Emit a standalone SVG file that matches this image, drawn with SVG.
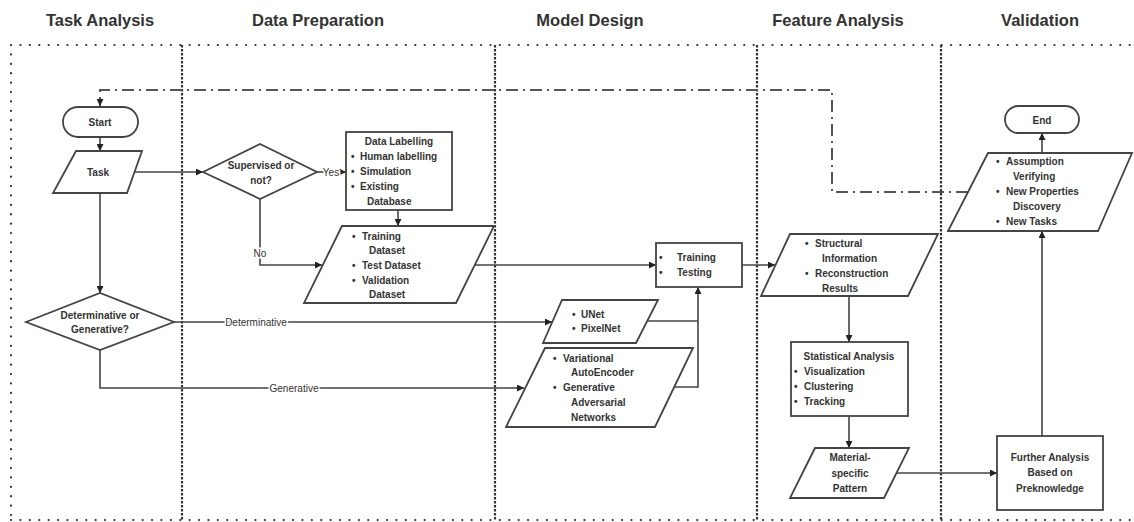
<svg xmlns="http://www.w3.org/2000/svg" width="1134" height="522" viewBox="0 0 1134 522">
<style>
.hd{font-family:"Liberation Sans",Arial,sans-serif;font-weight:bold;font-size:16.5px;fill:#333;text-anchor:middle}
.t{font-family:"Liberation Sans",Arial,sans-serif;font-weight:bold;font-size:10px;fill:#333}
.c{text-anchor:middle}
.lb{font-family:"Liberation Sans",Arial,sans-serif;font-size:10px;fill:#333;text-anchor:middle;stroke:#fff;stroke-width:3px;paint-order:stroke}
.sh{fill:#fff;stroke:#444;stroke-width:1.8}
.ln{fill:none;stroke:#444;stroke-width:1.6}
.dd{fill:none;stroke:#555;stroke-width:2;stroke-dasharray:12 5 2 5}
.fr{fill:none;stroke:#333;stroke-width:2.2;stroke-dasharray:0.1 9.3;stroke-linecap:round}
.sp{fill:none;stroke:#333;stroke-width:2.2;stroke-dasharray:2.5 1.5}
</style>
<defs>
<marker id="arr" viewBox="0 0 10 10" refX="10" refY="5" markerWidth="7" markerHeight="7" orient="auto" markerUnits="userSpaceOnUse"><path d="M0,0 L10,5 L0,10 z" fill="#222"/></marker>
</defs>

<g id="headers">
<text class="hd" x="100" y="26">Task Analysis</text>
<text class="hd" x="318" y="26">Data Preparation</text>
<text class="hd" x="590" y="26">Model Design</text>
<text class="hd" x="838" y="26">Feature Analysis</text>
<text class="hd" x="1040" y="26">Validation</text>
</g>

<g id="frame">
<path class="fr" d="M11,45 H1134 M11,45 V521 M11,520 H1134"/>
<path class="sp" d="M182,45 V521 M495,45 V521 M757,45 V521 M941,45 V521"/>
</g>

<g id="connectors">
<path class="dd" d="M968,192 H832 V90 H100 V106" marker-end="url(#arr)"/>
<path class="ln" d="M100,137 V151" marker-end="url(#arr)"/>
<path class="ln" d="M135,172 H203" marker-end="url(#arr)"/>
<path class="ln" d="M317,172 H346" marker-end="url(#arr)"/>
<text class="lb" x="331" y="176">Yes</text>
<path class="ln" d="M398,210 V226" marker-end="url(#arr)"/>
<path class="ln" d="M260,199 V265 H322" marker-end="url(#arr)"/>
<text class="lb" x="260" y="257">No</text>
<path class="ln" d="M475,265 H656" marker-end="url(#arr)"/>
<path class="ln" d="M742,265 H775" marker-end="url(#arr)"/>
<path class="ln" d="M849,296 V342" marker-end="url(#arr)"/>
<path class="ln" d="M849,416 V448" marker-end="url(#arr)"/>
<path class="ln" d="M897,473 H997" marker-end="url(#arr)"/>
<path class="ln" d="M1042,436 V231" marker-end="url(#arr)"/>
<path class="ln" d="M1042,153 V133" marker-end="url(#arr)"/>
<path class="ln" d="M100,193 V293" marker-end="url(#arr)"/>
<path class="ln" d="M174,322 H552" marker-end="url(#arr)"/>
<text class="lb" x="256" y="325.5">Determinative</text>
<path class="ln" d="M100,350 V388 H524" marker-end="url(#arr)"/>
<text class="lb" x="294" y="391.5">Generative</text>
<path class="ln" d="M647,321 H698"/>
<path class="ln" d="M674,387 H698 V287" marker-end="url(#arr)"/>
</g>

<g id="start">
<rect class="sh" x="63" y="107" width="75" height="30" rx="15"/>
<text class="t c" x="100" y="126">Start</text>
</g>

<g id="task">
<polygon class="sh" points="76,151 142,151 127,193 53,193"/>
<text class="t c" x="98" y="176">Task</text>
</g>

<g id="supervised">
<polygon class="sh" points="203,172 260,144 317,172 260,199"/>
<text class="t c" x="261" y="169">Supervised or</text>
<text class="t c" x="261" y="184">not?</text>
</g>

<g id="labelling">
<rect class="sh" x="346" y="132" width="106" height="78"/>
<text class="t c" x="399" y="145">Data Labelling</text>
<text class="t" x="351" y="160">•</text><text class="t" x="360" y="160">Human labelling</text>
<text class="t" x="351" y="175">•</text><text class="t" x="360" y="175">Simulation</text>
<text class="t" x="351" y="190">•</text><text class="t" x="360" y="190">Existing</text>
<text class="t" x="367" y="205">Database</text>
</g>

<g id="dataset">
<polygon class="sh" points="342,226 494,226 456,303 304,303"/>
<text class="t" x="352" y="240">•</text><text class="t" x="362" y="240">Training</text>
<text class="t" x="369" y="254">Dataset</text>
<text class="t" x="352" y="269">•</text><text class="t" x="362" y="269">Test Dataset</text>
<text class="t" x="352" y="284">•</text><text class="t" x="362" y="284">Validation</text>
<text class="t" x="369" y="298">Dataset</text>
</g>

<g id="determinative">
<polygon class="sh" points="26,322 100,293 174,322 100,350"/>
<text class="t c" x="100" y="319">Determinative or</text>
<text class="t c" x="100" y="333">Generative?</text>
</g>

<g id="training">
<rect class="sh" x="656" y="243" width="86" height="44"/>
<text class="t" x="659" y="261">•</text><text class="t" x="677" y="261">Training</text>
<text class="t" x="659" y="276">•</text><text class="t" x="677" y="276">Testing</text>
</g>

<g id="unet">
<polygon class="sh" points="562,300 658,300 636,343 543,343"/>
<text class="t" x="572" y="318">•</text><text class="t" x="581" y="318">UNet</text>
<text class="t" x="572" y="332">•</text><text class="t" x="581" y="332">PixelNet</text>
</g>

<g id="generative">
<polygon class="sh" points="545,348 693,348 655,427 506,427"/>
<text class="t" x="553" y="362">•</text><text class="t" x="563" y="362">Variational</text>
<text class="t" x="571" y="376">AutoEncoder</text>
<text class="t" x="553" y="391">•</text><text class="t" x="563" y="391">Generative</text>
<text class="t" x="571" y="406">Adversarial</text>
<text class="t" x="571" y="421">Networks</text>
</g>

<g id="structural">
<polygon class="sh" points="790,234 938,234 908,296 761,296"/>
<text class="t" x="805" y="247">•</text><text class="t" x="815" y="247">Structural</text>
<text class="t" x="822" y="262">Information</text>
<text class="t" x="805" y="277">•</text><text class="t" x="815" y="277">Reconstruction</text>
<text class="t" x="822" y="292">Results</text>
</g>

<g id="statistical">
<rect class="sh" x="791" y="342" width="117" height="74"/>
<text class="t c" x="849" y="360">Statistical Analysis</text>
<text class="t" x="794" y="375">•</text><text class="t" x="804" y="375">Visualization</text>
<text class="t" x="794" y="390">•</text><text class="t" x="804" y="390">Clustering</text>
<text class="t" x="794" y="405">•</text><text class="t" x="804" y="405">Tracking</text>
</g>

<g id="material">
<polygon class="sh" points="815,448 909,448 884,498 790,498"/>
<text class="t c" x="850" y="461">Material-</text>
<text class="t c" x="850" y="477">specific</text>
<text class="t c" x="850" y="492">Pattern</text>
</g>

<g id="further">
<rect class="sh" x="997" y="436" width="106" height="74"/>
<text class="t c" x="1050" y="461">Further Analysis</text>
<text class="t c" x="1050" y="476">Based on</text>
<text class="t c" x="1050" y="492">Preknowledge</text>
</g>

<g id="assumption">
<polygon class="sh" points="988,153 1132,153 1098,231 948,231"/>
<text class="t" x="996" y="165">•</text><text class="t" x="1006" y="165">Assumption</text>
<text class="t" x="1013" y="180">Verifying</text>
<text class="t" x="996" y="195">•</text><text class="t" x="1006" y="195">New Properties</text>
<text class="t" x="1013" y="210">Discovery</text>
<text class="t" x="996" y="225">•</text><text class="t" x="1006" y="225">New Tasks</text>
</g>

<g id="end">
<rect class="sh" x="1005" y="106" width="74" height="27" rx="13.5"/>
<text class="t c" x="1042" y="123.5">End</text>
</g>
</svg>
